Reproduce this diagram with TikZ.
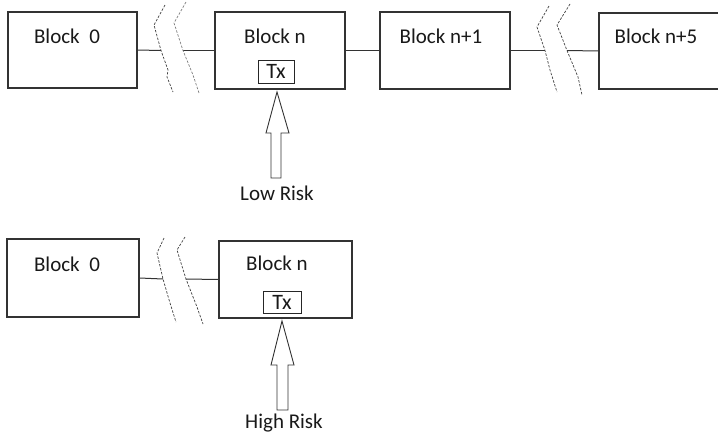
\documentclass[tikz,border=0pt]{standalone}
\usepackage{fontspec}
\setmainfont{Carlito}
\begin{document}
\begin{tikzpicture}[x=1pt,y=-1pt,
  blockbox/.style={draw=black!80, line width=1.1pt, rectangle, inner sep=0pt},
  txbox/.style={draw=black!85, line width=1pt, rectangle, inner sep=0pt, minimum width=36pt, minimum height=23pt, font=\fontsize{22}{26}\selectfont, text=black!90},
  lbl/.style={inner sep=0pt, font=\fontsize{21}{25}\selectfont, text=black!90},
  link/.style={draw=black!80, line width=1pt},
  brk/.style={draw=black!75, line width=0.7pt, dash pattern=on 2.5pt off 1.5pt},
  bigarrow/.style={draw=black!80, line width=0.9pt, fill=white, line join=miter}
]
\useasboundingbox (0,0) rectangle (718,437);
\clip (0,0) rectangle (718,437);

% ---------- top row ----------
\node[blockbox, minimum width=129pt, minimum height=76pt] (b0) at (72.5,50) {};
\node[blockbox, minimum width=130pt, minimum height=77pt] (bn) at (280,50.5) {};
\node[blockbox, minimum width=130pt, minimum height=77pt] (bn1) at (445,50.5) {};
\node[blockbox, minimum width=142pt, minimum height=76pt] (bn5) at (670,51) {};

\node[lbl] (t0) at (67,36) {Block~ 0};
\node[lbl] (tn) at (275,36) {Block n};
\node[lbl] (tn1) at (441,36) {Block n+1};
\node[lbl] (tn5) at (656,36) {Block n+5};

\node[txbox] (tx) at (276,71.5) {Tx};

\coordinate (ba1) at (161,50.5);
\coordinate (ba2) at (183,50.5);
\coordinate (bb1) at (545,50.5);
\coordinate (bb2) at (567,50.5);

\draw[link] (b0.east) -- (ba1);
\draw[link] (ba2) -- (bn.west);
\draw[link] (bn.east) -- (bn1.west);
\draw[link] (bn1.east) -- (bb1);
\draw[link] (bb2) -- (bn5.west);

\draw[brk] (165,5) -- (154,25) -- (ba1) -- (168,70) -- (167,77) -- (173,92);
\draw[brk, draw=black!50] (186,2) -- (174,23) -- (ba2) -- (193,75) -- (199,93);
\draw[brk] (549,6) -- (537,27) -- (bb1) -- (550,70) -- (557,92);
\draw[brk] (570,4) -- (557,25) -- (bb2) -- (578,77) -- (582,95);

\draw[bigarrow] (277,92) -- (289,133) -- (281,133) -- (281,178) -- (271,178) -- (271,133) -- (266,133) -- cycle;
\node[lbl] (low) at (277,193) {Low Risk};

% ---------- bottom row ----------
\node[blockbox, minimum width=132pt, minimum height=78pt] (c0) at (73,278) {};
\node[blockbox, minimum width=133pt, minimum height=77pt] (cn) at (285.5,279.5) {};

\node[lbl] (s0) at (67,264) {Block~ 0};
\node[lbl] (sn) at (277,263) {Block n};

\node[txbox, minimum width=38pt, minimum height=22pt] (tx2) at (282,302) {Tx};

\coordinate (ca1) at (163,279);
\coordinate (ca2) at (186,279);

\draw[link] (c0.east) -- (ca1);
\draw[link] (ca2) -- (cn.west);

\draw[brk] (164,238) -- (157,253) -- (ca1) -- (170,303) -- (176,322);
\draw[brk] (185,237) -- (177,250) -- (ca2) -- (197,307) -- (203,324);

\draw[bigarrow] (282,321) -- (294,365) -- (288,365) -- (288,410) -- (277,410) -- (277,365) -- (271,365) -- cycle;
\node[lbl] (high) at (284,423) {High Risk};
\end{tikzpicture}
\end{document}
